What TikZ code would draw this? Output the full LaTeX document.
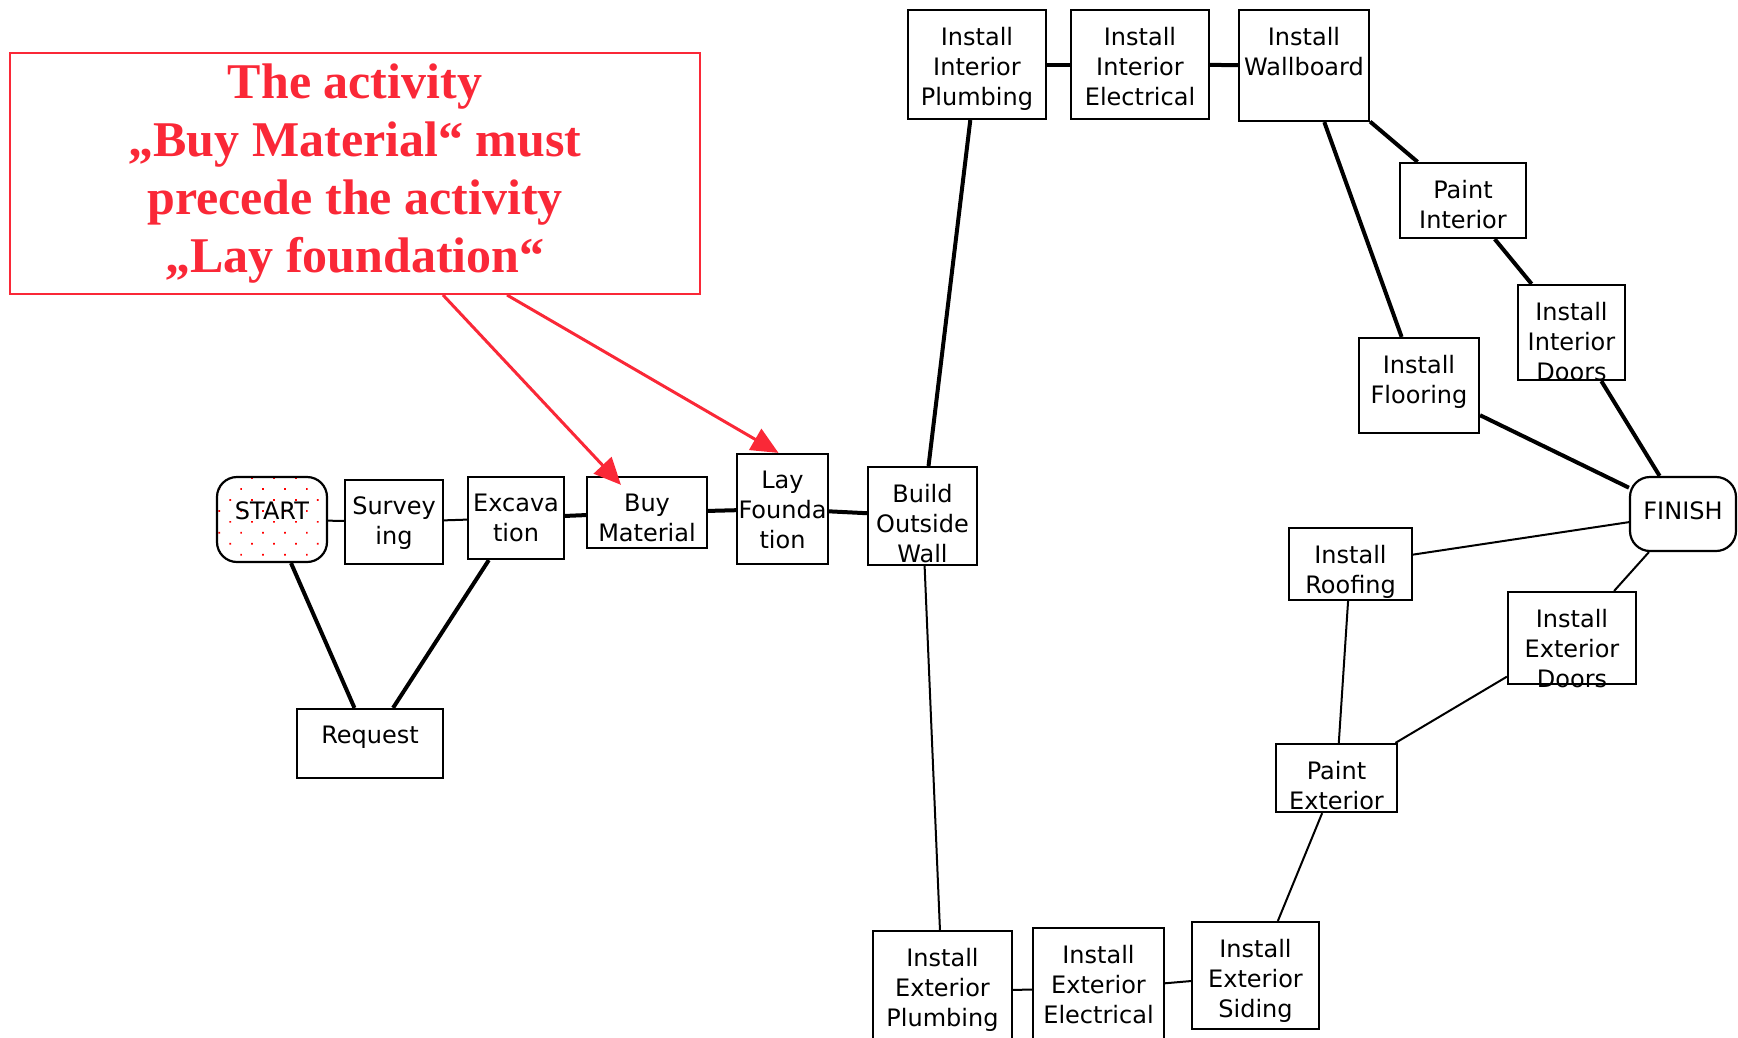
\documentclass[tikz,border=0pt]{standalone}
\usepackage{fontspec}
\setsansfont{DejaVu Sans}
\newfontfamily\notefont{Liberation Serif}
\usetikzlibrary{arrows.meta,patterns.meta}

\definecolor{notered}{RGB}{250,40,55}
\newcommand\actfont{\sffamily\fontsize{24}{30}\selectfont}

\tikzset{
    act/.style 2 args={draw, line width=2.2pt, inner sep=0pt,
        minimum width=#1pt, minimum height=#2pt},
    txt/.style={anchor=north, label distance=-18pt, align=center,
        inner sep=0pt, font=\actfont},
    ends/.style={draw, line width=2.2pt, rounded corners=20pt, font=\actfont},
    thin/.style={line width=2pt},
    crit/.style={line width=4pt},
    note/.style={draw=notered, line width=2pt, inner sep=0pt, align=center,
        text=notered, font=\notefont\bfseries\fontsize{50}{58}\selectfont},
    callarrow/.style={notered, line width=3pt, -{Triangle[length=27pt,width=24pt]}}
}

\begin{document}
\begin{tikzpicture}[x=1pt, y=-1pt]
\useasboundingbox (0,0) rectangle (1738,1037);

% start side
\node[ends, pattern={Dots[distance=15.5pt,angle=45,radius=1.2pt]}, pattern color=red,
      minimum width=110pt, minimum height=85pt] (start) at (272,519.5) {\raisebox{17pt}{START}};
\node[act={98}{84},   label={[txt]north:{Survey\\ing}}]         (surv) at (394,522) {};
\node[act={96}{82},   label={[txt]north:{Excava\\tion}}]        (exc)  at (516,518) {};
\node[act={120}{71},  label={[txt]north:{Buy\\Material}}]       (buy)  at (647,512.5) {};
\node[act={146}{69},  label={[txt]north:{Request}}]             (req)  at (370,743.5) {};
\node[act={91}{110},  label={[txt]north:{Lay\\Founda\\tion}}]   (lay)  at (782.5,509) {};
\node[act={109}{98},  label={[txt]north:{Build\\Outside\\Wall}}] (bow) at (922.5,516) {};

% interior
\node[act={138}{109}, label={[txt]north:{Install\\Interior\\Plumbing}}]   (iip) at (977,64.5) {};
\node[act={138}{109}, label={[txt]north:{Install\\Interior\\Electrical}}] (iie) at (1140,64.5) {};
\node[act={130}{111}, label={[txt]north:{Install\\Wallboard}}]            (iw)  at (1304,65.5) {};
\node[act={126}{75},  label={[txt]north:{Paint\\Interior}}]               (pi)  at (1463,200.5) {};
\node[act={107}{95},  label={[txt]north:{Install\\Interior\\Doors}}]      (iid) at (1571.5,332.5) {};
\node[act={120}{95},  label={[txt]north:{Install\\Flooring}}]             (ifl) at (1419,385.5) {};

\node[ends, minimum width=106pt, minimum height=74pt] (fin) at (1683,514) {\raisebox{6pt}{FINISH}};

% exterior
\node[act={123}{72},  label={[txt]north:{Install\\Roofing}}]              (iro) at (1350.5,564) {};
\node[act={128}{92},  label={[txt]north:{Install\\Exterior\\Doors}}]      (ied) at (1572,638) {};
\node[act={121}{68},  label={[txt]north:{Paint\\Exterior}}]               (pe)  at (1336.5,778) {};
\node[act={139}{119}, label={[txt]north:{Install\\Exterior\\Plumbing}}]   (iep) at (942.5,990.5) {};
\node[act={131}{122}, label={[txt]north:{Install\\Exterior\\Electrical}}] (iee) at (1098.5,989) {};
\node[act={127}{107}, label={[txt]north:{Install\\Exterior\\Siding}}]     (ies) at (1255.5,975.5) {};

% dependencies
\draw[thin] (start) -- (surv);
\draw[thin] (surv) -- (exc);
\draw[crit] (start) -- (req);
\draw[crit] (req) -- (exc);
\draw[crit] (exc) -- (buy);
\draw[crit] (buy) -- (lay);
\draw[crit] (lay) -- (bow);
\draw[crit] (bow) -- (iip);
\draw[crit] (iip) -- (iie);
\draw[crit] (iie) -- (iw);
\draw[crit] (iw) -- (pi);
\draw[crit] (iw) -- (ifl);
\draw[crit] (pi) -- (iid);
\draw[crit] (iid) -- (fin);
\draw[crit] (ifl) -- (fin);
\draw[thin] (bow) -- (iep);
\draw[thin] (iep) -- (iee);
\draw[thin] (iee) -- (ies);
\draw[thin] (ies) -- (pe);
\draw[thin] (pe) -- (iro);
\draw[thin] (pe) -- (ied);
\draw[thin] (iro) -- (fin);
\draw[thin] (ied) -- (fin);

% callout
\node[note, minimum width=690pt, minimum height=241pt] (note) at (355,173.5)
    {The activity\\„Buy Material“ must\\precede the activity\\„Lay foundation“};
\draw[callarrow] ([xshift=88pt]note.south) -- ([xshift=-26pt,yshift=-9pt]buy.north);
\draw[callarrow] ([xshift=152pt]note.south) -- ([xshift=-4pt]lay.north);
\end{tikzpicture}
\end{document}
